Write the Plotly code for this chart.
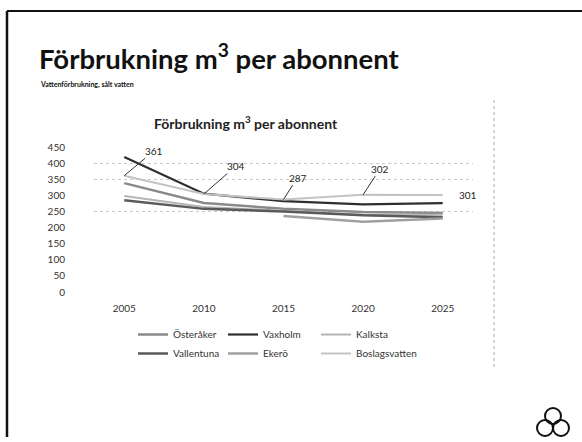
import plotly.graph_objects as go

years = [2005, 2010, 2015, 2020, 2025]
osteraker = [338, 276, 258, 248, 245]
vaxholm = [419, 305, 282, 272, 276]
kalksta = [298, 264, 252, 240, 240]
vallentuna = [285, 258, 250, 238, 232]
ekero = [None, None, 236, 218, 228]
boslagsvatten = [361, 304, 287, 302, 301]
y_ticks = [0, 50, 100, 150, 200, 250, 300, 350, 400, 450]

W, H = 582, 442
L, R, T, B = 94, 473, 147, 292


def px(x):
    return (x - L) / (R - L)


def py(y):
    return (B - y) / (B - T)


fig = go.Figure()

series = [
    ("Österåker", osteraker, "#8a8a8a", 2.5, "legend"),
    ("Vaxholm", vaxholm, "#2e2e2e", 2.2, "legend2"),
    ("Kalksta", kalksta, "#b5b5b5", 2, "legend3"),
    ("Vallentuna", vallentuna, "#5a5a5a", 2.5, "legend"),
    ("Ekerö", ekero, "#a0a0a0", 2.5, "legend2"),
    ("Boslagsvatten", boslagsvatten, "#c4c4c4", 2, "legend3"),
]
for name, vals, col, w, lg in series:
    fig.add_trace(go.Scatter(x=years, y=vals, name=name, mode="lines",
                             line=dict(color=col, width=w), legend=lg,
                             connectgaps=False))

# gridline helper axis (only some gridlines visible in reference)
fig.add_trace(go.Scatter(x=[years[0]], y=[0], yaxis="y2", showlegend=False,
                         mode="markers", marker=dict(opacity=0), hoverinfo="skip"))

# data labels for Boslagsvatten
offsets = [(30, -25), (32, -28), (14, -22), (17, -26)]
for (x, v), (ax, ay) in zip(zip(years[:4], boslagsvatten[:4]), offsets):
    fig.add_annotation(x=x, y=v, text=str(v), showarrow=True, arrowhead=0,
                       arrowwidth=1, arrowcolor="#333", ax=ax, ay=ay,
                       font=dict(family="Lato", size=10, color="#222"))
fig.add_annotation(x=years[4], y=boslagsvatten[4], text=str(boslagsvatten[4]),
                   showarrow=False, xanchor="left", xshift=14,
                   font=dict(family="Lato", size=10, color="#222"))

# titles
fig.add_annotation(xref="paper", yref="paper", x=px(37), y=py(56), xanchor="left",
                   yanchor="middle", showarrow=False,
                   text="Förbrukning m<sup>3</sup> per abonnent",
                   font=dict(family="Lato", size=27.5, color="#111", weight="bold"))
fig.add_annotation(xref="paper", yref="paper", x=px(38), y=py(84), xanchor="left",
                   yanchor="middle", showarrow=False,
                   text="Vattenförbrukning, sålt vatten",
                   font=dict(family="Lato", size=7, color="#111", weight="bold"))
fig.add_annotation(xref="paper", yref="paper", x=px(246), y=py(123), xanchor="center",
                   yanchor="middle", showarrow=False,
                   text="Förbrukning m<sup>3</sup> per abonnent",
                   font=dict(family="Lato", size=14, color="#222", weight="bold"))

shapes = [
    # slide border
    dict(type="line", xref="paper", yref="paper", x0=px(7), x1=px(582), y0=py(11), y1=py(11),
         line=dict(color="#111", width=2)),
    dict(type="line", xref="paper", yref="paper", x0=px(7), x1=px(7), y0=py(11), y1=py(437),
         line=dict(color="#111", width=2.5)),
    # chart area right border (dotted)
    dict(type="line", xref="paper", yref="paper", x0=px(494), x1=px(494), y0=py(100), y1=py(368),
         line=dict(color="#aaa", width=1, dash="dot")),
]
# logo: three interlaced rings
for cx, cy in [(553, 416), (545, 428), (561, 428)]:
    r = 8
    shapes.append(dict(type="circle", xref="paper", yref="paper",
                       x0=px(cx - r), x1=px(cx + r), y0=py(cy + r), y1=py(cy - r),
                       line=dict(color="#111", width=2)))
fig.update_layout(shapes=shapes)

legend_common = dict(orientation="v", xref="container", yref="container",
                     yanchor="top", xanchor="left", itemwidth=30,
                     font=dict(size=10, color="#333"), bgcolor="rgba(0,0,0,0)",
                     tracegroupgap=0)

fig.update_layout(
    width=W, height=H,
    margin=dict(l=L, r=W - R, t=T, b=H - B, autoexpand=False),
    paper_bgcolor="white", plot_bgcolor="white",
    font=dict(family="Lato", size=10, color="#333"),
    xaxis=dict(range=[2003.1, 2026.9], tickvals=years, showgrid=False, zeroline=False,
               showline=False, ticks="", tickfont=dict(size=10, family="Lato"),
               ticklabelstandoff=9, automargin=False),
    yaxis=dict(range=[0, 450], tickvals=y_ticks, showgrid=False, zeroline=False,
               showline=False, ticks="", tickfont=dict(size=10, family="Lato"),
               ticklabelstandoff=28, automargin=False),
    yaxis2=dict(range=[0, 450], overlaying="y", tickvals=[250, 350, 400, 450],
                showticklabels=False, showgrid=True, gridcolor="#c8c8c8",
                griddash="dot", gridwidth=1, zeroline=False, side="left",
                automargin=False),
    legend=dict(x=133 / W, y=1 - 320 / H, **legend_common),
    legend2=dict(x=223 / W, y=1 - 320 / H, **legend_common),
    legend3=dict(x=316 / W, y=1 - 320 / H, **legend_common),
    showlegend=True,
)

fig.write_html("out.html", config={"displayModeBar": False},
               post_script="document.body.style.margin='0px';")
